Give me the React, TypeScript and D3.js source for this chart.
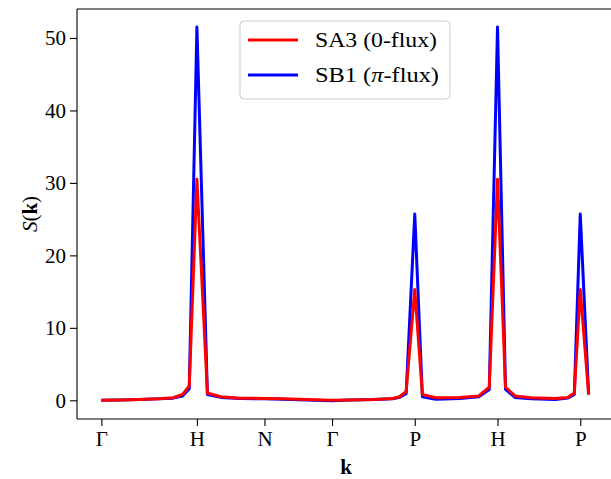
import React, { useEffect, useRef } from "react";
import * as d3 from "d3";

// path positions along Γ-H-N-Γ-P-H-P (units of 2π/a)
const tickLabels = ["Γ", "H", "N", "Γ", "P", "H", "P"];
const tickPos = [0, 1, 1.7071, 2.4142, 3.2802, 4.1463, 5.0123];

const kPoints = [
  0, 0.2, 0.4, 0.6, 0.75, 0.85, 0.92, 1.0,
  1.11, 1.25, 1.45, 1.7071,
  1.9, 2.15, 2.4142,
  2.6, 2.85, 3.05, 3.12, 3.19, 3.2802,
  3.36, 3.5, 3.75, 3.95, 4.06, 4.1463,
  4.23, 4.33, 4.5, 4.75, 4.88, 4.95, 5.0123,
  5.1
];
const sa3 = [
  0, 0.05, 0.1, 0.2, 0.35, 0.8, 2.0, 30.5,
  1.0, 0.5, 0.3, 0.25,
  0.2, 0.1, 0.0,
  0.05, 0.1, 0.25, 0.5, 1.2, 15.3,
  0.8, 0.35, 0.4, 0.6, 1.8, 30.5,
  1.8, 0.6, 0.35, 0.25, 0.4, 1.0, 15.3,
  0.8
];
const sb1 = [
  0, 0.05, 0.1, 0.2, 0.3, 0.6, 1.6, 51.5,
  0.8, 0.4, 0.25, 0.2,
  0.15, 0.05, -0.05,
  0.05, 0.1, 0.2, 0.4, 0.9, 25.7,
  0.5, 0.15, 0.25, 0.5, 1.5, 51.5,
  1.5, 0.4, 0.2, 0.1, 0.3, 0.8, 25.7,
  0.8
];
const yTicks = [0, 10, 20, 30, 40, 50];

const W = 611;
const H = 479;
const plot = { left: 77, top: 9, right: 613, bottom: 419 };
const font = "'Liberation Serif', 'DejaVu Serif', serif";

const App = () => {
  const ref = useRef<SVGSVGElement>(null);

  useEffect(() => {
    const svg = d3.select(ref.current);
    svg.selectAll("*").remove();

    const x = d3.scaleLinear().domain([-0.255, 5.355]).range([plot.left, plot.right]);
    const y = d3.scaleLinear().domain([-2.58, 54.0]).range([plot.bottom, plot.top]);

    const line = d3
      .line<number>()
      .x((_, i) => x(kPoints[i]))
      .y(d => y(d));

    const g = svg.append("g");

    g.append("path")
      .datum(sb1)
      .attr("d", line)
      .attr("fill", "none")
      .attr("stroke", "#0000ff")
      .attr("stroke-width", 3)
      .attr("stroke-linejoin", "round");
    g.append("path")
      .datum(sa3)
      .attr("d", line)
      .attr("fill", "none")
      .attr("stroke", "#ff0000")
      .attr("stroke-width", 3)
      .attr("stroke-linejoin", "round");

    // spines
    const spine = svg.append("g").attr("stroke", "#000").attr("stroke-width", 1.1);
    spine.append("line").attr("x1", plot.left).attr("x2", plot.left).attr("y1", plot.top).attr("y2", plot.bottom);
    spine.append("line").attr("x1", plot.left).attr("x2", plot.right).attr("y1", plot.bottom).attr("y2", plot.bottom);
    spine.append("line").attr("x1", plot.left).attr("x2", plot.right).attr("y1", plot.top).attr("y2", plot.top);

    // y axis
    const yAxis = svg
      .append("g")
      .attr("transform", `translate(${plot.left},0)`)
      .call(d3.axisLeft(y).tickValues(yTicks).tickSize(7).tickPadding(4).tickFormat(d3.format("d")));
    yAxis.select(".domain").remove();
    yAxis.selectAll("line").attr("stroke-width", 1.1);
    yAxis.selectAll("text").attr("font-family", font).attr("font-size", 21).attr("fill", "#000");

    // x axis
    const xAxis = svg
      .append("g")
      .attr("transform", `translate(0,${plot.bottom})`)
      .call(
        d3
          .axisBottom(x)
          .tickValues(tickPos)
          .tickSize(7)
          .tickPadding(5)
          .tickFormat((_, i) => tickLabels[i])
      );
    xAxis.select(".domain").remove();
    xAxis.selectAll("line").attr("stroke-width", 1.1);
    xAxis.selectAll("text").attr("font-family", font).attr("font-size", 21).attr("fill", "#000");

    // axis labels
    svg
      .append("text")
      .attr("x", (plot.left + W) / 2 + 2)
      .attr("y", 474)
      .attr("text-anchor", "middle")
      .attr("font-family", font)
      .attr("font-size", 21)
      .attr("font-weight", "bold")
      .text("k");

    const yl = svg
      .append("text")
      .attr("transform", `translate(37,${(plot.top + plot.bottom) / 2}) rotate(-90)`)
      .attr("text-anchor", "middle")
      .attr("font-family", font)
      .attr("font-size", 21);
    yl.append("tspan").attr("font-style", "italic").text("S");
    yl.append("tspan").text("(");
    yl.append("tspan").attr("font-weight", "bold").text("k");
    yl.append("tspan").text(")");

    // legend
    const lg = svg.append("g");
    lg.append("rect")
      .attr("x", 240)
      .attr("y", 21)
      .attr("width", 210)
      .attr("height", 78)
      .attr("rx", 4)
      .attr("fill", "#fff")
      .attr("fill-opacity", 0.8)
      .attr("stroke", "#cccccc")
      .attr("stroke-width", 1);
    const entries = [
      { color: "#ff0000", width: 122, parts: [{ t: "SA3 (0-flux)", i: false }] },
      {
        color: "#0000ff",
        width: 124,
        parts: [
          { t: "SB1 (", i: false },
          { t: "π", i: true },
          { t: "-flux)", i: false }
        ]
      }
    ];
    entries.forEach((e, j) => {
      const cy = 40 + j * 35;
      lg.append("line")
        .attr("x1", 248)
        .attr("x2", 298)
        .attr("y1", cy)
        .attr("y2", cy)
        .attr("stroke", e.color)
        .attr("stroke-width", 3);
      const t = lg
        .append("text")
        .attr("x", 315)
        .attr("y", cy + 7)
        .attr("font-family", font)
        .attr("font-size", 21)
        .attr("textLength", e.width)
        .attr("lengthAdjust", "spacingAndGlyphs");
      e.parts.forEach(p => {
        t.append("tspan").attr("font-style", p.i ? "italic" : "normal").text(p.t);
      });
    });
  }, []);

  return (
    <svg
      ref={ref}
      width={W}
      height={H}
      style={{ position: "absolute", left: 0, top: 0, background: "#fff" }}
    />
  );
};

export default App;
